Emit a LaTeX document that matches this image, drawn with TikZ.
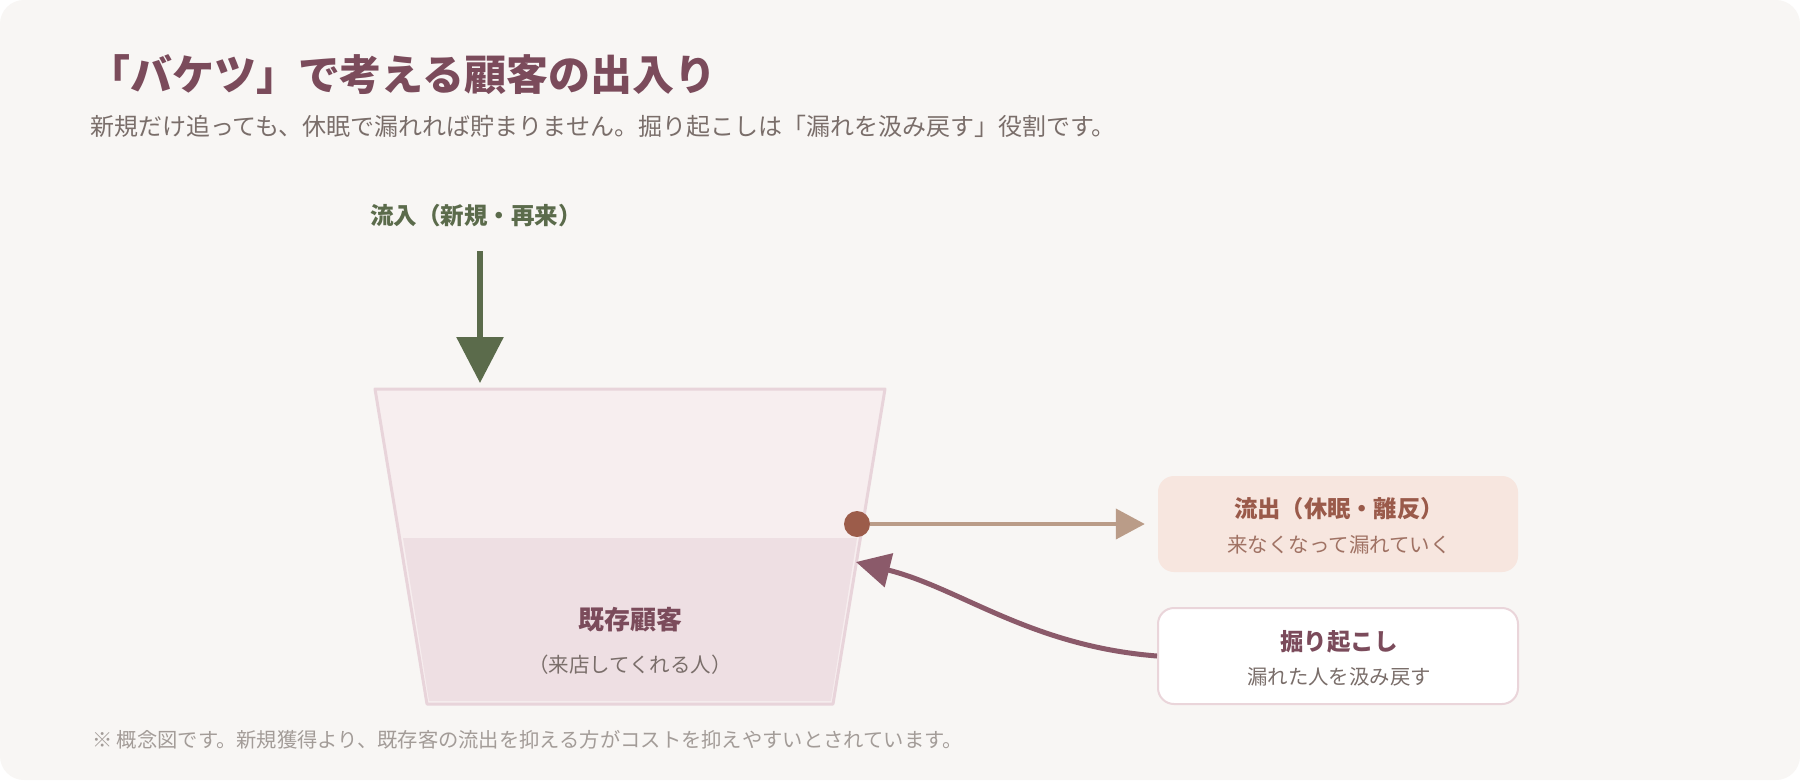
\documentclass[tikz,border=0pt]{standalone}
\usepackage{fontspec}
\setmainfont{Noto Sans CJK JP}
\usetikzlibrary{arrows.meta}
\definecolor{bg}{HTML}{F8F6F4}
\definecolor{titlec}{HTML}{7B4B5B}
\definecolor{subc}{HTML}{7A6E6A}
\definecolor{greenc}{HTML}{5B6B4B}
\definecolor{bucketline}{HTML}{E8D4DA}
\definecolor{bucketfill}{HTML}{F7EEEF}
\definecolor{water}{HTML}{EEDFE3}
\definecolor{dotc}{HTML}{9C5C4A}
\definecolor{outline}{HTML}{BA9C88}
\definecolor{outfill}{HTML}{F7E6DF}
\definecolor{outtitle}{HTML}{9A5A4A}
\definecolor{outsub}{HTML}{A07264}
\definecolor{digline}{HTML}{EAD5DA}
\definecolor{curvec}{HTML}{8B5A6A}
\definecolor{footc}{HTML}{A39C98}
\tikzset{
  txt/.style={inner sep=0pt, outer sep=0pt},
  infobox/.style={rounded corners=16pt, minimum width=360pt, minimum height=96pt, inner sep=0pt},
}
\begin{document}
\begin{tikzpicture}[x=1pt,y=-1pt]
\useasboundingbox (0,0) rectangle (1800,780);
\fill[white] (0,0) rectangle (1800,780);
\fill[bg, rounded corners=24pt] (0,0) rectangle (1800,780);

% title and subtitle
\node[txt, anchor=west, text=titlec, font=\fontsize{42}{50}\selectfont\bfseries] (title) at (88,75) {「バケツ」で考える顧客の出入り};
\node[txt, anchor=west, text=subc, font=\fontsize{24}{28}\selectfont] (subtitle) at (90,126) {新規だけ追っても、休眠で漏れれば貯まりません。掘り起こしは「漏れを汲み戻す」役割です。};

% inflow
\node[txt, text=greenc, font=\fontsize{23.5}{28}\selectfont\bfseries] (inlabel) at (476,216) {流入（新規・再来）};
\coordinate (inA) at (480,251);
\coordinate (inB) at (480,383);
\draw[greenc, line width=6pt, -{Triangle[length=46pt,width=46pt]}] (inA) -- (inB);

% bucket
\fill[bucketfill] (375,389) -- (885,389) -- (833,704) -- (427,704) -- cycle;
\fill[water] (403,538) -- (857,538) -- (831,701) -- (429,701) -- cycle;
\draw[bucketline, line width=3pt, line join=round] (375,389) -- (885,389) -- (833,704) -- (427,704) -- cycle;

\node[txt, text=titlec, font=\fontsize{26}{30}\selectfont\bfseries] (exist) at (630,620) {既存顧客};
\node[txt, text=subc, font=\fontsize{20.5}{24}\selectfont] (existsub) at (630,665) {（来店してくれる人）};

% outflow
\node[circle, fill=dotc, minimum size=26pt, inner sep=0pt] (dot) at (857,524) {};
\node[infobox, fill=outfill] (outbox) at (1338,524) {};
\node[txt, text=outtitle, font=\fontsize{23.3}{28}\selectfont\bfseries] (outtitle) at (1339,509) {流出（休眠・離反）};
\node[txt, text=outsub, font=\fontsize{20.5}{24}\selectfont] (outsub) at (1339,545) {来なくなって漏れていく};
\draw[outline, line width=4pt, -{Triangle[length=29pt,width=30pt]}, shorten >=13pt] (dot.east) -- (outbox.west);

% dig box
\node[infobox, fill=white, draw=digline, line width=2pt] (digbox) at (1338,656) {};
\node[txt, text=titlec, font=\fontsize{23.5}{28}\selectfont\bfseries] (digtitle) at (1339,642) {掘り起こし};
\node[txt, text=subc, font=\fontsize{20.4}{24}\selectfont] (digsub) at (1339,677) {漏れた人を汲み戻す};
\coordinate (digtip) at (856,562);
\draw[curvec, line width=5pt, -{Triangle[length=34pt,width=34pt]}] (digbox.west) .. controls (1030,646) and (960,588) .. (digtip);

% footnote
\node[txt, anchor=west, text=footc, font=\fontsize{20.3}{24}\selectfont] (foot) at (92,740) {※ 概念図です。新規獲得より、既存客の流出を抑える方がコストを抑えやすいとされています。};
\end{tikzpicture}
\end{document}
